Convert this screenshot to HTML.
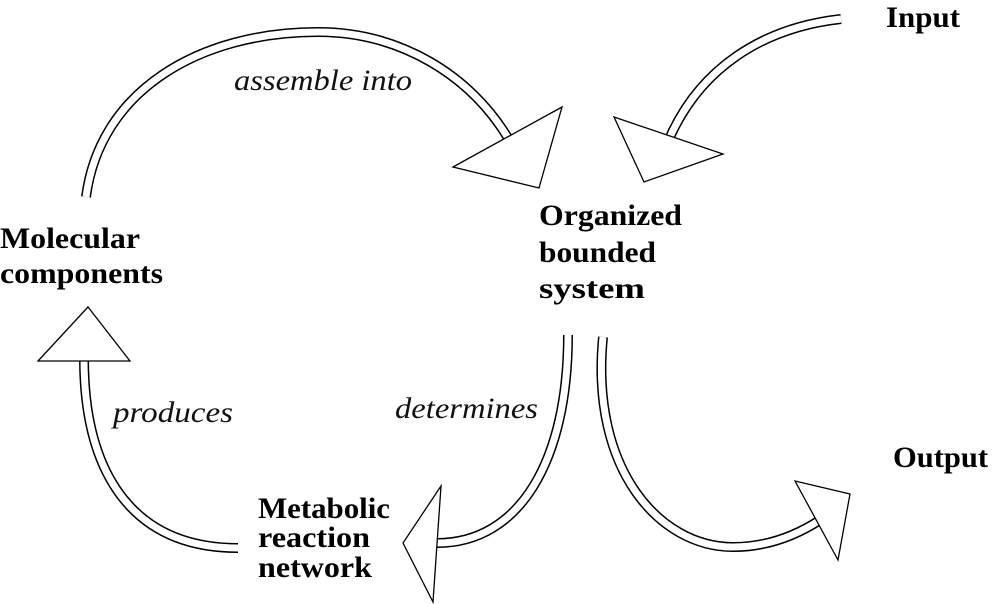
<!DOCTYPE html>
<html><head><meta charset="utf-8"><style>
html,body{margin:0;padding:0;background:#fff;}
svg{display:block;}
.b{font-family:"Liberation Serif",serif;font-weight:bold;font-size:30px;fill:#000;}
.i{font-family:"Liberation Serif",serif;font-style:italic;font-size:30px;fill:#111;}
</style></head><body>
<svg width="1000" height="604" viewBox="0 0 1000 604" xmlns="http://www.w3.org/2000/svg">
<g fill="none" stroke-linecap="butt">
 <!-- top arc -->
 <path d="M86,197 C100,90 200,32 318,32 C400,32 470,75 508,138" stroke="#000" stroke-width="10"/>
 <path d="M86,197 C100,90 200,32 318,32 C400,32 470,75 508,138" stroke="#fff" stroke-width="7"/>
 <!-- input arc -->
 <path d="M841,19 C760,28 700,70 670,137" stroke="#000" stroke-width="10"/>
 <path d="M841,19 C760,28 700,70 670,137" stroke="#fff" stroke-width="7"/>
 <!-- produces -->
 <path d="M84,358 C84,470 130,548 238,548" stroke="#000" stroke-width="10"/>
 <path d="M84,358 C84,470 130,548 238,548" stroke="#fff" stroke-width="7"/>
 <!-- determines -->
 <path d="M568,335 C568,460 520,543 437,543" stroke="#000" stroke-width="10"/>
 <path d="M568,335 C568,460 520,543 437,543" stroke="#fff" stroke-width="7"/>
 <!-- output -->
 <path d="M603,337 C590,470 660,547 733,547 C770,547 800,533 820,520" stroke="#000" stroke-width="10"/>
 <path d="M603,337 C590,470 660,547 733,547 C770,547 800,533 820,520" stroke="#fff" stroke-width="7"/>
</g>
<g fill="#fff" stroke="#000" stroke-width="1.3" stroke-linejoin="miter">
 <polygon points="453,167 562,107 539,188"/>
 <polygon points="614,117 723,154 644,182"/>
 <polygon points="88,307 38,361 130,361"/>
 <polygon points="441,486 403,543 433,602"/>
 <polygon points="795,481 850,494 838,560"/>
</g>
<text class="b" x="0" y="248" textLength="140" lengthAdjust="spacingAndGlyphs">Molecular</text>
<text class="b" x="0" y="283" textLength="163" lengthAdjust="spacingAndGlyphs">components</text>
<text class="b" x="539" y="225" textLength="143" lengthAdjust="spacingAndGlyphs">Organized</text>
<text class="b" x="539" y="262" textLength="117" lengthAdjust="spacingAndGlyphs">bounded</text>
<text class="b" x="539" y="298" textLength="106" lengthAdjust="spacingAndGlyphs">system</text>
<text class="b" x="258" y="518" textLength="132" lengthAdjust="spacingAndGlyphs">Metabolic</text>
<text class="b" x="258" y="547" textLength="112" lengthAdjust="spacingAndGlyphs">reaction</text>
<text class="b" x="258" y="577" textLength="114" lengthAdjust="spacingAndGlyphs">network</text>
<text class="b" x="886" y="27" textLength="74" lengthAdjust="spacingAndGlyphs">Input</text>
<text class="b" x="893" y="467" textLength="95" lengthAdjust="spacingAndGlyphs">Output</text>
<text class="i" x="234" y="90" textLength="178" lengthAdjust="spacingAndGlyphs">assemble into</text>
<text class="i" x="113" y="422" textLength="120" lengthAdjust="spacingAndGlyphs">produces</text>
<text class="i" x="395" y="418" textLength="143" lengthAdjust="spacingAndGlyphs">determines</text>
</svg>
</body></html>
